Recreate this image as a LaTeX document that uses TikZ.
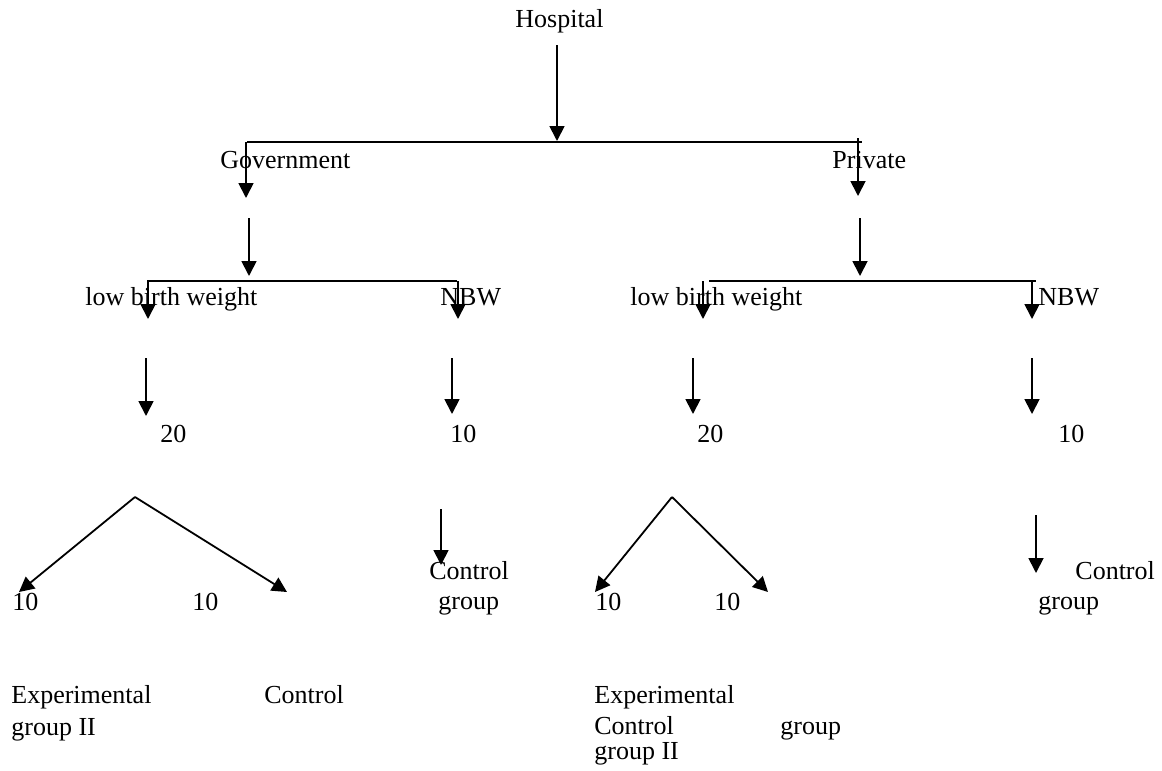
\documentclass[tikz,border=0pt]{standalone}
\usepackage{fontspec}
\setmainfont{Liberation Serif}
\usetikzlibrary{arrows.meta}

\begin{document}
\begin{tikzpicture}[x=0.5pt, y=-0.5pt,
    every node/.style={font=\fontsize{13}{15}\selectfont, inner sep=0pt, anchor=base west},
    arr/.style={line width=0.9pt, -{Triangle[width=7.5pt,length=7.5pt]}},
    bar/.style={line width=0.8pt}]

    % Canvas
    \useasboundingbox (0,0) rectangle (1162,771);

    % Top level
    \node (hosp) at (515,27) {Hospital};
    \node (gov) at (220,168) {Government};
    \node (priv) at (832,168) {Private};

    % Birth weight level
    \node (lbwG) at (85,305) {low birth weight};
    \node (nbwG) at (440,305) {NBW};
    \node (lbwP) at (630,305) {low birth weight};
    \node (nbwP) at (1038,305) {NBW};

    % Counts
    \node (cntLG) at (160,442) {20};
    \node (cntNG) at (450,442) {10};
    \node (cntLP) at (697,442) {20};
    \node (cntNP) at (1058,442) {10};

    % Split counts
    \node (expG) at (12,610) {10};
    \node (ctlG) at (192,610) {10};
    \node (expP) at (595,610) {10};
    \node (ctlP) at (714,610) {10};

    % NBW control groups
    \node (cgG1) at (429,579) {Control};
    \node (cgG2) at (438,609) {group};
    \node (cgP1) at (1075,579) {Control};
    \node (cgP2) at (1038,609) {group};

    % Bottom labels
    \node (egG1) at (11,703) {Experimental};
    \node (egG2) at (11,735) {group II};
    \node (cbG) at (264,703) {Control};
    \node (egP1) at (594,703) {Experimental};
    \node (egP2) at (594,734) {Control};
    \node (egP3) at (780,734) {group};
    \node (egP4) at (594,759) {group II};

    % Branch bars
    \foreach \n/\xa/\xb/\y in {top/247/862/142, barG/147/457/281, barP/709/1036/281} {
        \coordinate (\n L) at (\xa,\y);
        \coordinate (\n R) at (\xb,\y);
        \draw[bar] (\n L) -- (\n R);
    }

    % Straight down arrows
    \foreach \n/\x/\ya/\yb in {a0/557/45/141,
                               g1/246/142/198, g2/249/218/276,
                               p1/858/138/196, p2/860/218/276,
                               lg1/148/281/319, ng1/458/281/319,
                               lp1/703/281/319, np1/1032/281/319,
                               lg2/146/358/416, ng2/452/358/414,
                               lp2/693/358/414, np2/1032/358/414,
                               ng3/441/509/565, np3/1036/515/573} {
        \coordinate (\n s) at (\x,\ya);
        \coordinate (\n e) at (\x,\yb);
        \draw[arr] (\n s) -- (\n e);
    }

    % Experimental / control split
    \coordinate (apexG) at (135,497);
    \coordinate (tipGa) at (19,592);
    \coordinate (tipGb) at (287,592);
    \coordinate (apexP) at (672,497);
    \coordinate (tipPa) at (595,592);
    \coordinate (tipPb) at (768,592);
    \draw[arr] (apexG) -- (tipGa);
    \draw[arr] (apexG) -- (tipGb);
    \draw[arr] (apexP) -- (tipPa);
    \draw[arr] (apexP) -- (tipPb);

\end{tikzpicture}
\end{document}
